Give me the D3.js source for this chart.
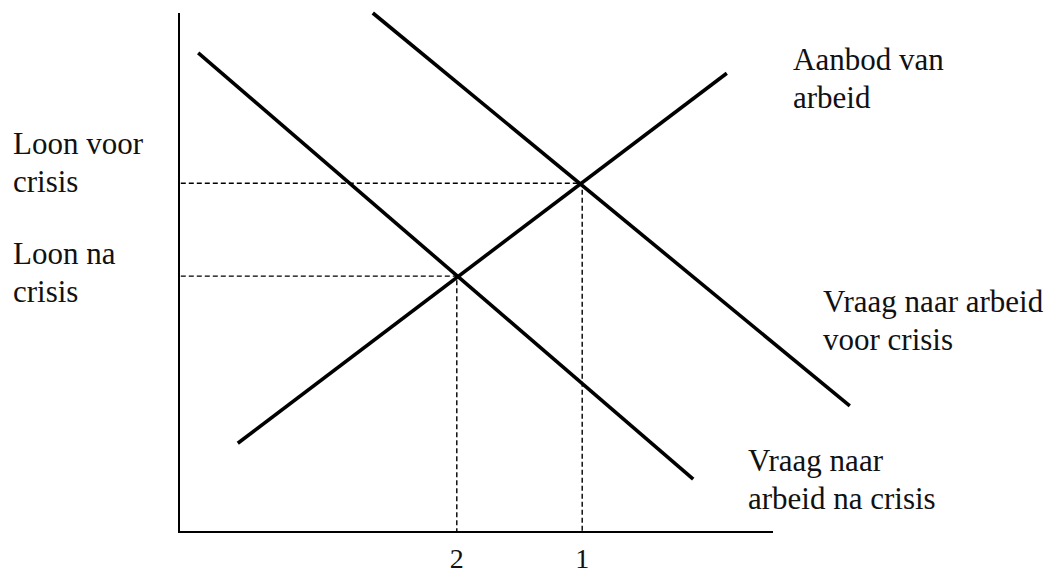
<!DOCTYPE html>
<meta charset="utf-8">
<head>
  <title>Arbeidsmarkt voor en na crisis</title>
  <style>
    body { margin: 0; background: #fff; }
    svg text { font-family: 'Liberation Serif', Tinos, 'Times New Roman', 'DejaVu Serif', serif; font-size: 31px; fill: #111; }
  </style>
</head>

<body>
  <svg width="1054" height="575"></svg>

  <script src="https://cdnjs.cloudflare.com/ajax/libs/d3/7.8.5/d3.min.js"></script>
  <script>
// curves as [x, y] end points, in chart units (0-10 on both axes)
var aanbod = [[0.98, 1.71], [9.13, 8.84]];
var vraagVoor = [[3.23, 10.0], [11.18, 2.43]];
var vraagNa = [[0.32, 9.23], [8.57, 1.02]];

// equilibria: 1 = voor crisis, 2 = na crisis
var evenwicht = [
  {label: '1', x: 6.72, y: 6.72},
  {label: '2', x: 4.63, y: 4.93}
];

var xAxisEnd = 9.9;
var yAxisEnd = 10;

var x = d3.scaleLinear().domain([0, 10]).range([179, 779]);
var y = d3.scaleLinear().domain([0, 10]).range([532, 13]);

var svg = d3.select('svg');
var serif = "'Liberation Serif', Tinos, 'Times New Roman', 'DejaVu Serif', serif";

var line = d3.line()
  .x(function(d) { return x(d[0]); })
  .y(function(d) { return y(d[1]); });

// axes
svg.append('path')
  .attr('d', line([[0, yAxisEnd], [0, 0], [xAxisEnd, 0]]))
  .attr('fill', 'none')
  .attr('stroke', '#000')
  .attr('stroke-width', 2);

// dashed guides
evenwicht.forEach(function(e) {
  svg.append('path')
    .attr('d', line([[0.03, e.y], [e.x, e.y], [e.x, 0]]))
    .attr('fill', 'none')
    .attr('stroke', '#000')
    .attr('stroke-width', 1.4)
    .attr('stroke-dasharray', '5,3');
});

// curves
svg.selectAll('path.curve')
  .data([aanbod, vraagVoor, vraagNa])
  .enter()
  .append('path')
  .attr('class', 'curve')
  .attr('d', line)
  .attr('stroke', '#000')
  .attr('stroke-width', 3.6);

// tick labels on the x axis
svg.selectAll('text.tick')
  .data(evenwicht)
  .enter()
  .append('text')
  .attr('class', 'tick')
  .attr('x', function(d) { return x(d.x); })
  .attr('y', 568)
  .attr('text-anchor', 'middle')
  .attr('font-family', serif)
  .style('font-size', '28px')
  .text(function(d) { return d.label; });

// labels
var labels = [
  {lines: ['Aanbod van', 'arbeid'], x: 793, y: 70},
  {lines: ['Loon voor', 'crisis'], x: 13, y: 154},
  {lines: ['Loon na', 'crisis'], x: 13, y: 264},
  {lines: ['Vraag naar arbeid', 'voor crisis'], x: 823, y: 312},
  {lines: ['Vraag naar', 'arbeid na crisis'], x: 748, y: 471}
];

labels.forEach(function(l) {
  var t = svg.append('text')
    .attr('x', l.x)
    .attr('y', l.y)
    .attr('font-family', serif);
  l.lines.forEach(function(s, i) {
    t.append('tspan')
      .attr('x', l.x)
      .attr('dy', i === 0 ? 0 : 38)
      .text(s);
  });
});
  </script>
</body>
</html>
